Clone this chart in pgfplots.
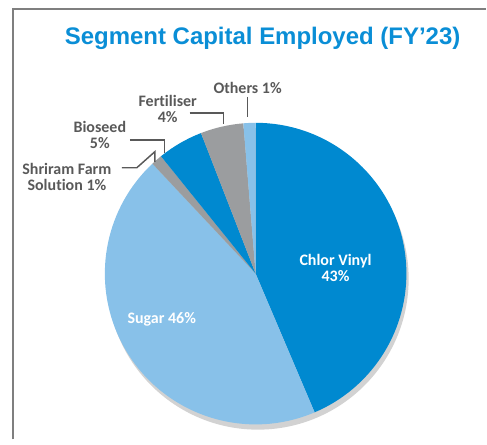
\documentclass[border=0pt]{standalone}
\usepackage{pgfplots}
\pgfplotsset{compat=1.18}
\usepackage{pgfplotstable}
\usepackage{fontspec}
\setmainfont[Ligatures={NoCommon}]{Carlito}
\newfontfamily\titlefont{Liberation Sans}

\definecolor{cvblue}{HTML}{0089D0}
\definecolor{sugarblue}{HTML}{88C1E9}
\definecolor{slicegray}{HTML}{9B9D9F}
\definecolor{labelgray}{HTML}{595959}
\definecolor{titleblue}{HTML}{0A8ED6}
\definecolor{framegray}{HTML}{7F7F7F}
\definecolor{shadowgray}{HTML}{D2D2D2}

% share of capital employed, clockwise from 12 o'clock
\pgfplotstableread{
segment share color
ChlorVinyl 43.6 cvblue
Sugar 44.4 sugarblue
Farm 1.2 slicegray
Bioseed 4.9 cvblue
Fertiliser 4.6 slicegray
Others 1.3 sugarblue
}\segdata

\begin{document}
\begin{tikzpicture}
\begin{scope}[x=0.75pt,y=-0.75pt]
\useasboundingbox (0,0) rectangle (487,440);
\end{scope}

\begin{axis}[
  at={(256*0.75pt,-274*0.75pt)},
  anchor=origin,
  scale only axis,
  width=226.5pt, height=226.5pt,
  xmin=-1, xmax=1, ymin=-1, ymax=1,
  hide axis,
  clip=false,
]
% drop shadow
\fill[shadowgray] (axis cs:0.015,-0.035) circle[radius=113.25pt];
\pgfplotstablegetrowsof{\segdata}
\pgfmathtruncatemacro\lastrow{\pgfplotsretval-1}
\def\angstart{90}
\pgfplotsforeachungrouped \i in {0,...,\lastrow}{
  \pgfplotstablegetelem{\i}{share}\of\segdata \let\val\pgfplotsretval
  \pgfplotstablegetelem{\i}{color}\of\segdata \let\col\pgfplotsretval
  \pgfmathsetmacro\angend{\angstart-3.6*\val}
  \edef\slice{\noexpand\fill[\col] (axis cs:0,0) -- (axis cs:{cos(\angstart)},{sin(\angstart)})
    arc[start angle=\angstart, end angle=\angend, radius=113.25pt] -- cycle;}
  \slice
  \let\angstart\angend
}
\end{axis}

\begin{scope}[x=0.75pt,y=-0.75pt]
% frame
\draw[framegray, line width=1.1pt] (13,440) -- (13,9) -- (487,9);
% title
\node[text=titleblue, font=\titlefont\fontsize{18}{20}\selectfont\bfseries] at (263,38)
  {Segment Capital Employed (FY’23)};
% inside labels
\node[text=white, align=center, font=\fontsize{12}{12}\selectfont\bfseries] at (336,268)
  {Chlor Vinyl\\43\%};
\node[text=white, font=\fontsize{12}{12}\selectfont\bfseries] at (162,320) {Sugar 46\%};
% outside labels
\begin{scope}[every node/.style={text=labelgray, align=center, font=\fontsize{12}{12}\selectfont\bfseries}]
\node at (248,88) {Others 1\%};
\node at (168,109) {Fertiliser\\4\%};
\node at (100,135) {Bioseed\\5\%};
\node at (67,177) {Shriram Farm\\Solution 1\%};
\end{scope}
\begin{scope}[labelgray, line width=1.1pt]
\draw (248,97) -- (248,117);
\draw (190,113) -- (224,113) -- (224,124);
\draw (130,140) -- (165,140) -- (165,153);
\draw (122,168) -- (137,168) -- (155,152) -- (155,162);
\end{scope}
\end{scope}
\end{tikzpicture}
\end{document}
